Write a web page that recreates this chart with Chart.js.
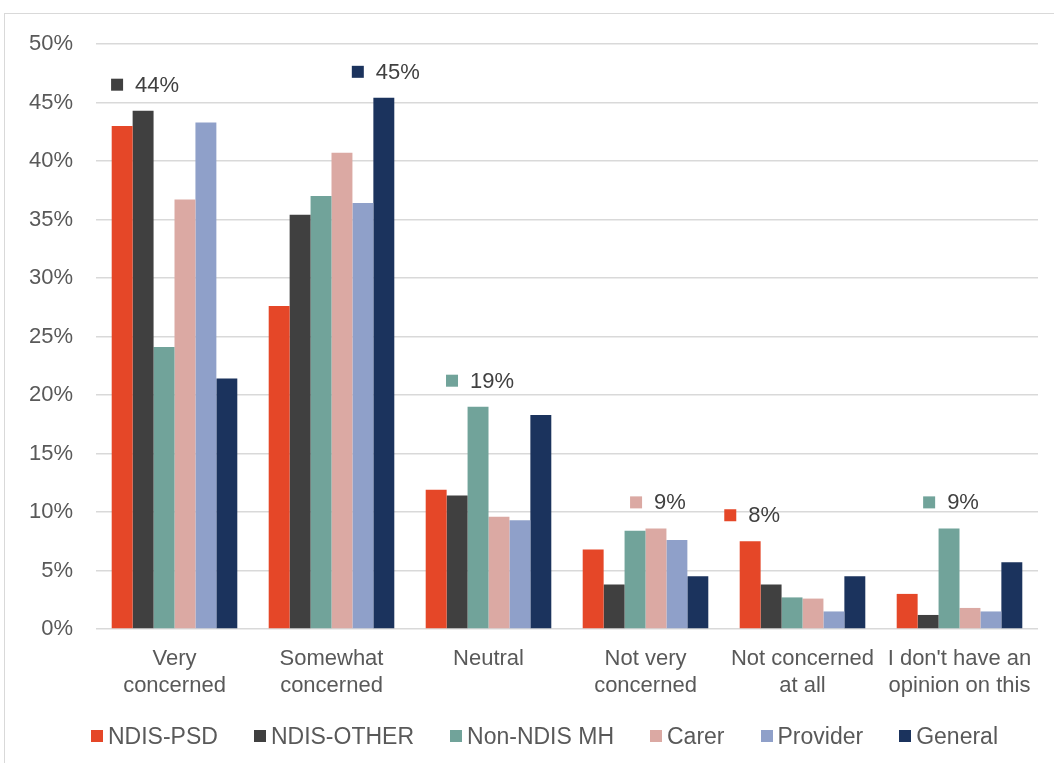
<!DOCTYPE html>
<html>
<head>
<meta charset="utf-8">
<script src="https://cdn.jsdelivr.net/npm/chart.js@4.4.0/dist/chart.umd.min.js"></script>
<style>
  html, body { margin: 0; padding: 0; background: #fff; overflow: hidden; }
  #wrap { position: relative; width: 1054px; height: 763px; }
  #frame { position: absolute; left: 4px; top: 13px; width: 1200px; height: 900px;
           border: 1px solid #d9d9d9; box-sizing: border-box; }
  #c { position: absolute; left: 0; top: 0; }
  #legend { position: absolute; left: 91px; top: 723px; display: flex; gap: 36px;
            font: 23px "Liberation Sans", Arial, sans-serif; color: #595959; line-height: 26px;
            white-space: nowrap; }
  .item { display: flex; align-items: center; }
  .sw { width: 12px; height: 12px; margin-right: 5px; }
</style>
</head>
<body>
<div id="wrap">
  <div id="frame"></div>
  <canvas id="c" width="1054" height="763"></canvas>
  <div id="legend"></div>
</div>
<script>
// Response categories (multi-line axis labels)
const categories = [
  ["Very", "concerned"],
  ["Somewhat", "concerned"],
  ["Neutral"],
  ["Not very", "concerned"],
  ["Not concerned", "at all"],
  ["I don't have an", "opinion on this"]
];

const seriesNames = ["NDIS-PSD", "NDIS-OTHER", "Non-NDIS MH", "Carer", "Provider", "General"];

// Share of respondents (%) per category
const ndisPsd   = [43.0, 27.6, 11.9, 6.8, 7.5, 3.0];
const ndisOther = [44.3, 35.4, 11.4, 3.8, 3.8, 1.2];
const nonNdisMh = [24.1, 37.0, 19.0, 8.4, 2.7, 8.6];
const carer     = [36.7, 40.7,  9.6, 8.6, 2.6, 1.8];
const provider  = [43.3, 36.4,  9.3, 7.6, 1.5, 1.5];
const general   = [21.4, 45.4, 18.3, 4.5, 4.5, 5.7];

const yTicks = [0, 5, 10, 15, 20, 25, 30, 35, 40, 45, 50];

// Highlighted values: [series index, category index]
const labelled = [[1, 0], [5, 1], [2, 2], [3, 3], [0, 4], [2, 5]];

const colors = ["#E54728", "#404040", "#71A39A", "#DBA9A3", "#8FA0C9", "#1B335D"];
const seriesValues = [ndisPsd, ndisOther, nonNdisMh, carer, provider, general];

const FONT = "'Liberation Sans', Arial, sans-serif";

const valueLabels = {
  id: 'valueLabels',
  afterDatasetsDraw(chart) {
    const ctx = chart.ctx;
    ctx.save();
    ctx.font = "22px " + FONT;
    ctx.textBaseline = 'middle';
    ctx.textAlign = 'left';
    labelled.forEach(([s, c]) => {
      const bar = chart.getDatasetMeta(s).data[c];
      const text = Math.round(seriesValues[s][c]) + '%';
      const tw = ctx.measureText(text).width;
      const total = 12 + 12 + tw;
      const left = bar.x - total / 2 + 2;
      const cy = bar.y - 26;
      ctx.fillStyle = colors[s];
      ctx.fillRect(left, cy - 6, 12, 12);
      ctx.fillStyle = '#404040';
      ctx.fillText(text, left + 24, cy + 1);
    });
    ctx.restore();
  }
};

const chart = new Chart(document.getElementById('c'), {
  type: 'bar',
  data: {
    labels: categories,
    datasets: seriesNames.map((name, i) => ({
      label: name,
      data: seriesValues[i],
      backgroundColor: colors[i],
      borderWidth: 0,
      categoryPercentage: 0.8,
      barPercentage: 1.0
    }))
  },
  options: {
    responsive: false,
    animation: false,
    devicePixelRatio: 1,
    layout: { padding: { top: 44, right: 16, left: 0, bottom: 0 } },
    plugins: {
      legend: { display: false },
      tooltip: { enabled: false }
    },
    scales: {
      x: {
        grid: { display: false, drawTicks: false },
        border: { display: false },
        ticks: {
          padding: 16,
          color: '#595959',
          font: { family: FONT, size: 22, lineHeight: 1.23 },
          maxRotation: 0,
          autoSkip: false
        },
        afterFit(scale) { scale.height = 134; }
      },
      y: {
        min: 0,
        max: 50,
        afterBuildTicks(scale) { scale.ticks = yTicks.map(v => ({ value: v })); },
        grid: { color: '#d9d9d9', lineWidth: 1.5, drawTicks: false },
        border: { display: false },
        ticks: {
          padding: 23,
          color: '#595959',
          font: { family: FONT, size: 22 },
          callback: v => v + '%'
        },
        afterFit(scale) { scale.width = 96; }
      }
    }
  },
  plugins: [valueLabels]
});

// Legend built from the chart's datasets
const legendEl = document.getElementById('legend');
chart.data.datasets.forEach(ds => {
  const item = document.createElement('div');
  item.className = 'item';
  const sw = document.createElement('span');
  sw.className = 'sw';
  sw.style.background = ds.backgroundColor;
  const tx = document.createElement('span');
  tx.textContent = ds.label;
  item.appendChild(sw);
  item.appendChild(tx);
  legendEl.appendChild(item);
});
</script>
</body>
</html>
